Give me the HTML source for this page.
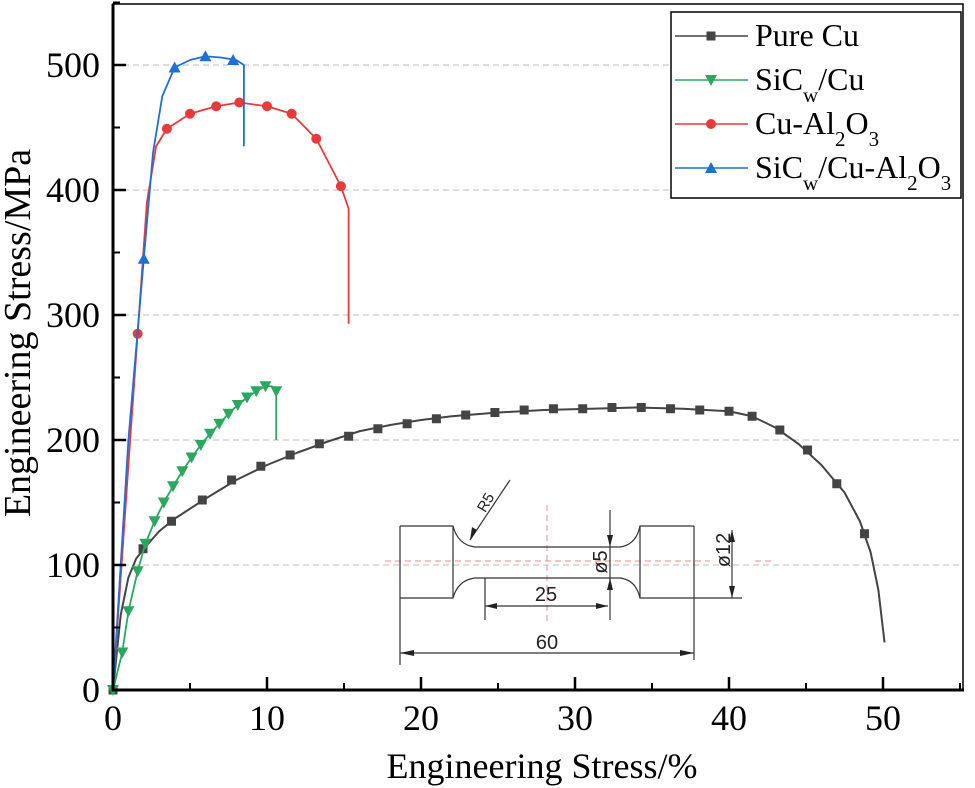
<!DOCTYPE html>
<html><head><meta charset="utf-8"><style>
html,body{margin:0;padding:0;background:#fff;}
svg{display:block;font-family:"Liberation Serif",serif;}
</style></head><body>
<svg id="chart" width="975" height="788" viewBox="0 0 975 788">
<g id="grid"></g>
<g id="series"></g>
<g id="axes"></g>
<g id="inset" fill="none" stroke="#333" stroke-width="1.2">
  <line x1="385" y1="561" x2="710" y2="561" stroke="#e88" stroke-dasharray="6,4" stroke-width="1"/>
  <line x1="755" y1="561" x2="775" y2="561" stroke="#e88" stroke-dasharray="6,4" stroke-width="1"/>
  <line x1="547" y1="505" x2="547" y2="622" stroke="#e88" stroke-dasharray="6,4" stroke-width="1"/>
  <path d="M400 526 L453 526 L453 598 L400 598"/>
  <path d="M453 526 Q458 545 475 547 L620 547 Q636 545 640 526"/>
  <path d="M453 598 Q458 580 475 578 L620 578 Q636 580 640 598"/>
  <path d="M694 526 L640 526 L640 598 L694 598"/>
  <line x1="694" y1="526" x2="694" y2="660"/>
  <line x1="400" y1="526" x2="400" y2="665"/>
  <line x1="694" y1="598" x2="742" y2="598"/>
  <line x1="485" y1="578" x2="485" y2="620"/>
  <line x1="610" y1="510" x2="610" y2="620"/>
  <line x1="485" y1="606" x2="608" y2="606"/>
  <line x1="400" y1="653" x2="694" y2="653"/>
  <line x1="732" y1="530" x2="732" y2="598"/>
  <line x1="470" y1="540" x2="510" y2="480"/>
  <g fill="#222" stroke="none">
    <polygon points="485,606 497,603 497,609"/><polygon points="608,606 596,603 596,609"/>
    <polygon points="400,653 414,650 414,656"/><polygon points="694,653 680,650 680,656"/>
    <polygon points="610,547 607,535 613,535"/><polygon points="610,578 607,590 613,590"/>
    <polygon points="732,530 729,542 735,542"/><polygon points="732,598 729,586 735,586"/>
    <polygon points="470,540 472,527 477,530"/>
  </g>
  <g fill="#222" stroke="none" font-family="'Liberation Sans Narrow','Liberation Sans',sans-serif" font-size="20">
    <text x="546" y="601" text-anchor="middle">25</text>
    <text x="547" y="649" text-anchor="middle">60</text>
    <text transform="translate(607,562) rotate(-90)" text-anchor="middle">ø5</text>
    <text transform="translate(730,550) rotate(-90)" text-anchor="middle">ø12</text>
    <text transform="translate(490,505) rotate(-60)" text-anchor="middle" font-size="15">R5</text>
  </g>
</g>
<g id="legend"></g>
</svg>
<script>
const NS="http://www.w3.org/2000/svg";
const xTicks=[0,10,20,30,40,50];
const yTicks=[0,100,200,300,400,500];
const gridVals=[100,200,300,400,500];
const seriesNames=["Pure Cu","SiCw/Cu","Cu-Al2O3","SiCw/Cu-Al2O3"];
const seriesColors=["#444444","#2aa860","#e83a3a","#1f6fd6"];
const cuX=[0,0.5,1,1.5,2,3,4,6,8,10,12,14,16,18,20,22,25,28,31,34,37,40,41.5,43,44.5,46,47.5,48.5,49.2,49.7,50.1];
const cuY=[0,60,90,105,113,127,137,153,168,180,190,199,207,212,216,219,222,224,225,226,225,223,219,210,197,180,158,135,110,80,38];
const cuMX=[0,1.95,3.8,5.8,7.7,9.6,11.5,13.4,15.3,17.2,19.1,21,22.9,24.8,26.7,28.6,30.5,32.4,34.3,36.2,38.1,40,41.5,43.3,45.1,47,48.8];
const cuMY=[0,113,135,152,168,179,188,197,203,209,213,217,220,222,224,225,225,226,226,225,224,223,219,208,192,165,125];
const sicX=[0,0.6,1.0,1.6,2.1,2.7,3.3,3.9,4.5,5.1,5.7,6.3,6.9,7.5,8.1,8.7,9.3,9.9,10.3,10.6,10.6];
const sicY=[0,30,63,95,117,135,150,163,175,186,196,205,213,221,228,234,239,243,243,241,200];
const sicMX=[0,0.6,1.0,1.6,2.1,2.7,3.3,3.9,4.5,5.1,5.7,6.3,6.9,7.5,8.1,8.7,9.3,9.9,10.6];
const sicMY=[0,30,63,95,117,135,150,163,175,186,196,205,213,221,228,234,239,243,239];
const alX=[0,1.0,1.6,2.2,2.8,3.5,5,6.7,8.2,10,11.6,13.2,14.8,15.3,15.3];
const alY=[0,180,285,390,435,449,461,467,470,467,461,441,403,385,293];
const alMX=[1.6,3.5,5,6.7,8.2,10,11.6,13.2,14.8];
const alMY=[285,449,461,467,470,467,461,441,403];
const hyX=[0,1.0,2.0,2.6,3.2,4.0,5,6,7,8,8.5,8.5];
const hyY=[0,200,345,430,475,498,504,507,506,504,500,435];
const hyMX=[2.0,4.0,6.0,7.8];
const hyMY=[345,498,507,504];

const X0=113,XS=15.4,Y0=690,YS=1.25;
function sx(v){return X0+v*XS;}
function sy(v){return Y0-v*YS;}
function el(tag,attrs,parent){const e=document.createElementNS(NS,tag);for(const k in attrs)e.setAttribute(k,attrs[k]);parent.appendChild(e);return e;}

const grid=document.getElementById('grid');
gridVals.forEach(v=>{
  const l=el('line',{x1:X0,x2:963,y1:sy(v),y2:sy(v),stroke:'#bbb','stroke-dasharray':'6,4','stroke-width':1},grid);
  
  
});

function marker(kind,x,y,color,parent){
  let m;
  if(kind==0)m=el('rect',{x:x-4.5,y:y-4.5,width:9,height:9,fill:color},parent);
  else if(kind==1)m=el('polygon',{points:`${x-6},${y-5} ${x+6},${y-5} ${x},${y+6}`,fill:color},parent);
  else if(kind==2)m=el('circle',{cx:x,cy:y,r:5,fill:color},parent);
  else m=el('polygon',{points:`${x-6},${y+5} ${x+6},${y+5} ${x},${y-6}`,fill:color},parent);
  return m;
}
const ser=document.getElementById('series');
const all=[[cuX,cuY,cuMX,cuMY],[sicX,sicY,sicMX,sicMY],[alX,alY,alMX,alMY],[hyX,hyY,hyMX,hyMY]];
all.forEach((s,i)=>{
  const g=el('g',{},ser);
  
  
  const pts=s[0].map((x,j)=>sx(x)+','+sy(s[1][j])).join(' ');
  const pl=el('polyline',{points:pts,fill:'none',stroke:seriesColors[i],'stroke-width':i==0?2:1.8,'stroke-linejoin':'round'},g);
  
  
  s[2].forEach((x,j)=>{
    const m=marker(i,sx(x),sy(s[3][j]),seriesColors[i],g);
    
    
  });
});

const ax=document.getElementById('axes');
el('rect',{x:X0,y:4,width:850,height:686,fill:'none',stroke:'#000','stroke-width':1.5},ax);
el('line',{x1:X0,y1:4,x2:X0,y2:691.5,stroke:'#000','stroke-width':3},ax);
el('line',{x1:X0-1.5,y1:Y0,x2:964,y2:Y0,stroke:'#000','stroke-width':3},ax);
xTicks.forEach(v=>{
  el('line',{x1:sx(v),x2:sx(v),y1:Y0,y2:Y0-13,stroke:'#000','stroke-width':2.5},ax);
  el('line',{x1:sx(v+5),x2:sx(v+5),y1:Y0,y2:Y0-7,stroke:'#000','stroke-width':2},ax);
  const t=el('text',{x:sx(v),y:730,'text-anchor':'middle','font-size':36},ax);
  t.textContent=v;
  
  
});
yTicks.forEach(v=>{
  el('line',{x1:X0,x2:X0+13,y1:sy(v),y2:sy(v),stroke:'#000','stroke-width':2.5},ax);
  el('line',{x1:X0,x2:X0+7,y1:sy(v+50),y2:sy(v+50),stroke:'#000','stroke-width':2},ax);
  const t=el('text',{x:100,y:sy(v)+12,'text-anchor':'end','font-size':36},ax);
  t.textContent=v;
  
  
});
const xt=el('text',{x:542,y:778,'text-anchor':'middle','font-size':36},ax);
xt.textContent='Engineering Stress/%';


const yt=el('text',{transform:'translate(30,333) rotate(-90)','text-anchor':'middle','font-size':38},ax);
yt.textContent='Engineering Stress/MPa';



const lg=document.getElementById('legend');
el('rect',{x:671,y:12,width:290,height:186,fill:'#fff',stroke:'#000','stroke-width':1.5},lg);
const labels=['Pure Cu','SiC<tspan baseline-shift="sub" font-size="21">w</tspan>/Cu','Cu-Al<tspan baseline-shift="sub" font-size="21">2</tspan>O<tspan baseline-shift="sub" font-size="21">3</tspan>','SiC<tspan baseline-shift="sub" font-size="21">w</tspan>/Cu-Al<tspan baseline-shift="sub" font-size="21">2</tspan>O<tspan baseline-shift="sub" font-size="21">3</tspan>'];
seriesNames.forEach((n,i)=>{
  const y=36+i*44;
  const g=el('g',{},lg);
  
  
  el('line',{x1:675,x2:748,y1:y,y2:y,stroke:seriesColors[i],'stroke-width':1.5},g);
  marker(i,711,y,seriesColors[i],g);
  const t=el('text',{x:755,y:y+10,'font-size':32},g);
  t.innerHTML=labels[i];
});
</script>
</body></html>
